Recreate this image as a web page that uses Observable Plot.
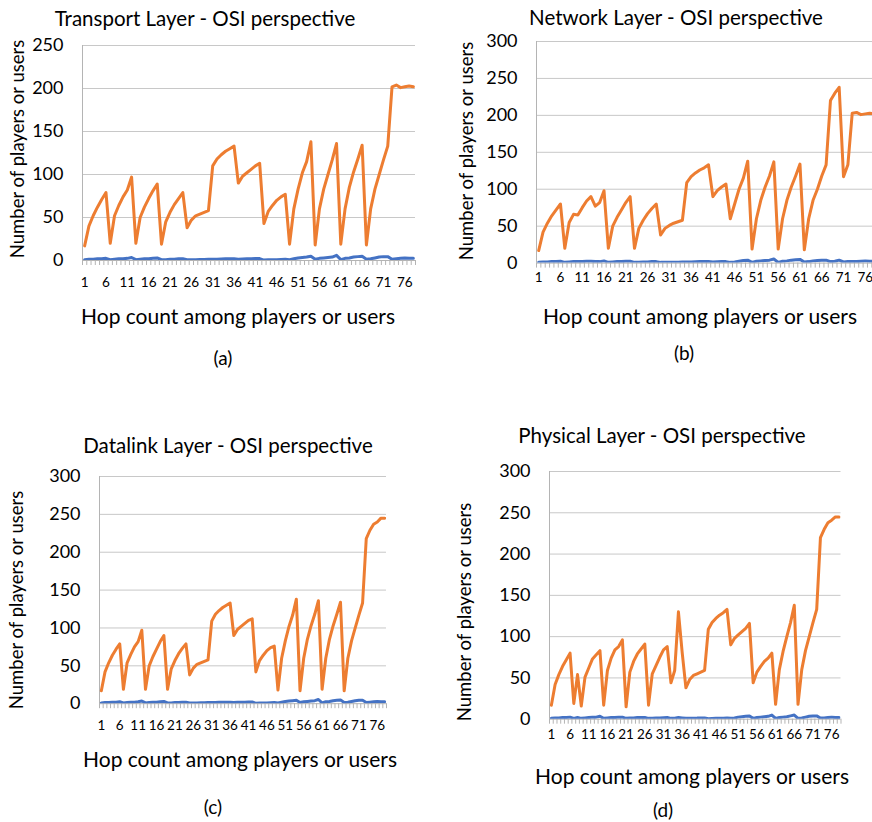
<!DOCTYPE html>
<html>
<head>
<meta charset="utf-8">
<script src="https://cdn.jsdelivr.net/npm/d3@7"></script>
<script src="https://cdn.jsdelivr.net/npm/@observablehq/plot@0.6"></script>
<style>
  body { margin: 0; background: #fff; }
  #root { position: relative; width: 872px; height: 822px; overflow: hidden; font-family: Lato, "Open Sans", sans-serif; color: #000; background: #fff; }
  .t { position: absolute; white-space: nowrap; line-height: 1; transform: translate(-50%, -50%); }
  .v { position: absolute; white-space: nowrap; line-height: 1; transform: translate(-50%, -50%) rotate(-90deg); }
  .plot { position: absolute; }
</style>
</head>
<body>
<div id="root"></div>
<script>
// ---------- data ----------
const hops = d3.range(1, 79);               // hop count categories 1..78
const tickLabels = [1, 6, 11, 16, 21, 26, 31, 36, 41, 46, 51, 56, 61, 66, 71, 76];

const transportOrange = [
  17, 40, 52, 62, 71, 79,
  20, 52, 64, 74, 82, 97,
  20, 50, 62, 72, 81, 89,
  19, 45, 56, 65, 72, 79,
  38, 47, 52, 54, 56, 58,
  110, 118, 123, 127, 130, 133,
  90, 98, 102, 106, 110, 113,
  43, 57, 64, 70, 74, 77,
  19, 60, 83, 102, 115, 138,
  18, 60, 83, 100, 117, 136,
  19, 60, 85, 103, 118, 134,
  18, 60, 83, 100, 117, 133,
  202, 204, 201, 202, 203, 202
];
const transportBlue = [
  1, 1.5, 1.5, 2, 2, 2.5,
  1, 1.5, 2, 2, 2.5, 3.5,
  1, 1.5, 2, 2, 2.5, 3,
  1, 1, 1.5, 1.5, 2, 2,
  1, 1, 1, 1.2, 1.3, 1.5,
  1.5, 1.5, 1.8, 2, 2, 2,
  1.5, 1.8, 2, 2, 2.2, 2.2,
  0.5, 0.8, 1, 1, 1.2, 1.5,
  1, 2, 3, 3.5, 4, 5,
  1.5, 2.5, 3, 3.5, 4, 6,
  1, 2.5, 3, 4, 4.5, 5,
  1.5, 2, 3, 4, 4.5, 4.5,
  1.5, 2, 2.5, 3, 2.5, 2.5
];

const networkOrange = [
  17, 42, 54, 64, 72, 80,
  20, 55, 66, 65, 75, 84, 90, 77, 82, 98,
  20, 50, 62, 72, 82, 90,
  20, 47, 58, 67, 74, 80,
  38, 47, 51, 54, 56, 58,
  109, 117, 122, 126, 129, 133,
  90, 98, 103, 107,
  60, 80, 100, 115, 138,
  19, 60, 85, 103, 118, 137,
  19, 60, 85, 103, 118, 134,
  18, 60, 85, 100, 118, 133,
  220, 230, 238,
  117, 133,
  203, 204, 201, 202, 203, 202
];
const networkBlue = [
  1, 1.5, 1.5, 2, 2, 2.5,
  1, 1.5, 2, 2, 2, 2.5, 2.5, 2, 2, 3,
  1, 1.5, 2, 2, 2.5, 2.5,
  1, 1, 1.5, 1.5, 2, 2,
  1, 1, 1, 1.2, 1.3, 1.5,
  1.5, 1.5, 1.8, 2, 2, 2,
  1.5, 1.8, 2, 2,
  1, 1.5, 2.5, 3.5, 4,
  1, 2.5, 3, 3.5, 4, 5.5,
  1, 2.5, 3, 4, 4.5, 5,
  1.5, 2, 3, 3.5, 4, 4,
  2, 2.5, 4,
  1.5, 2,
  2, 2, 2.5, 3, 2.5, 2.5
];

const datalinkOrange = [
  17, 42, 54, 64, 72, 79,
  19, 54, 65, 75, 82, 97,
  19, 50, 62, 72, 82, 90,
  19, 46, 57, 66, 73, 79,
  38, 47, 52, 54, 56, 58,
  109, 118, 123, 127, 130, 133,
  90, 98, 102, 106, 110, 112,
  42, 57, 64, 70, 74, 76,
  18, 60, 83, 102, 117, 138,
  17, 60, 85, 103, 118, 136,
  19, 60, 85, 103, 118, 134,
  17, 60, 83, 100, 117, 133,
  218, 229, 237, 240, 245, 245
];
const datalinkBlue = [
  1, 1.5, 1.5, 2, 2, 2.5,
  1, 1.5, 2, 2, 2.5, 3.5,
  1, 1.5, 2, 2, 2.5, 3,
  1, 1, 1.5, 1.5, 2, 2,
  1, 1, 1, 1.2, 1.3, 1.5,
  1.5, 1.5, 1.8, 2, 2, 2,
  1.5, 1.8, 2, 2, 2.2, 2.2,
  0.5, 0.8, 1, 1, 1.2, 1.5,
  1, 2, 3, 3.5, 4, 4.5,
  1.5, 2.5, 3, 3.5, 4, 5.5,
  1, 2.5, 3, 4, 4.5, 5,
  1.5, 2, 3, 4, 4.5, 4.5,
  1.5, 2, 2.5, 3, 2.5, 2.5
];

const physicalOrange = [
  17, 42, 54, 64, 72, 80,
  19, 54, 16,
  51, 62, 73, 78, 83,
  17, 59, 74, 84, 88, 96,
  15, 57, 70, 79, 85, 91,
  17, 55, 65, 75, 84, 88,
  44, 59, 130, 81, 38,
  48, 53, 55, 57, 59,
  109, 117, 122, 126, 129, 133,
  90, 98, 102, 106, 110, 116,
  44, 57, 64, 70, 74, 80,
  18, 60, 82, 100, 117, 138,
  18, 60, 83, 100, 117, 133,
  220, 230, 238, 241, 245, 245
];
const physicalBlue = [
  1, 1.5, 1.5, 2, 2, 2.5,
  1, 2, 1,
  1.5, 2, 2.5, 2.5, 3.5,
  1, 1.5, 2, 2, 2.5, 2.5,
  1, 1.5, 1.5, 2, 2, 2,
  1, 1.2, 1.5, 1.5, 1.8, 2,
  1, 1.2, 2, 1.5, 1,
  1, 1.2, 1.3, 1.5, 1.5,
  0.5, 0.8, 1, 1, 1.2, 1.5,
  1, 1.5, 2.5, 3, 3.5, 4,
  1, 2, 2.5, 3, 3.5, 5,
  1, 2, 2.5, 3, 4, 5,
  1, 1.5, 2.5, 3.5, 4, 4,
  1.5, 1.5, 2, 2.5, 2, 2
];

const yTitle = "Number of players or users";
const xTitle = "Hop count among players or users";

// ---------- layout ----------
const ORANGE = "#ED7D31", BLUE = "#4472C4";
const panels = [
  { title: "Transport Layer - OSI perspective", cap: "(a)", orange: transportOrange, blue: transportBlue, yMax: 250,
    f: { l: 82, r: 415, t: 45, b: 260 }, xMax: 78.5, tickPad: 17,
    titleXY: [205, 18], xTitleXY: [238, 315], yTitleXY: [17, 149], capXY: [223, 357] },
  { title: "Network Layer - OSI perspective", cap: "(b)", orange: networkOrange, blue: networkBlue, yMax: 300,
    f: { l: 535.7, r: 872, t: 40.7, b: 262.3 }, xMax: 0.5 + (872 - 535.7) / 4.355, tickPad: 9,
    titleXY: [676, 17], xTitleXY: [700, 315], yTitleXY: [466, 151], capXY: [684, 352] },
  { title: "Datalink Layer - OSI perspective", cap: "(c)", orange: datalinkOrange, blue: datalinkBlue, yMax: 300,
    f: { l: 99.3, r: 386.3, t: 475.5, b: 702.7 }, xMax: 78.5, tickPad: 17,
    titleXY: [228, 445], xTitleXY: [240, 758], yTitleXY: [16, 600], capXY: [213, 806] },
  { title: "Physical Layer - OSI perspective", cap: "(d)", orange: physicalOrange, blue: physicalBlue, yMax: 300,
    f: { l: 548.8, r: 840.3, t: 471, b: 718.7 }, xMax: 78.5, tickPad: 10,
    titleXY: [662, 435], xTitleXY: [692, 775], yTitleXY: [464, 612], capXY: [663, 809] }
];

const root = document.getElementById("root");
function addText(txt, [x, y], size, vertical) {
  const d = document.createElement("div");
  d.className = vertical ? "v" : "t";
  d.textContent = txt;
  d.style.left = x + "px";
  d.style.top = y + "px";
  d.style.fontSize = size + "px";
  root.appendChild(d);
}

const ML = 75, MT = 15, MB = 40;
for (const p of panels) {
  const rows = hops.map((h, i) => ({ hop: h, orange: p.orange[i], blue: p.blue[i] }));
  const mr = Math.max(0, 872 - p.f.r < 10 ? 872 - p.f.r : 10);
  const width = (p.f.r - p.f.l) + ML + mr;
  const height = (p.f.b - p.f.t) + MT + MB;
  const bounds = d3.range(0.5, p.xMax + 0.001, 1);
  const chart = Plot.plot({
    width, height,
    marginLeft: ML, marginTop: MT, marginRight: mr, marginBottom: MB,
    style: { fontFamily: "Lato, 'Open Sans', sans-serif", background: "transparent", color: "#000", overflow: "visible" },
    x: { domain: [0.5, p.xMax], axis: null },
    y: { domain: [0, p.yMax], axis: null },
    marks: [
      Plot.gridY(d3.range(50, p.yMax + 1, 50), { stroke: "#c8c8c8", strokeOpacity: 1, strokeWidth: 1 }),
      Plot.ruleX([0.5], { stroke: "#b4b4b4", strokeWidth: 1 }),
      Plot.ruleY([0], { stroke: "#b4b4b4", strokeWidth: 1 }),
      Plot.axisX(bounds, { tickSize: 5, tickFormat: () => "", stroke: "#b4b4b4", label: null }),
      Plot.axisX(tickLabels, { tickSize: 0, tickPadding: p.tickPad, fontSize: 13.5, fill: "#000", tickFormat: d => String(d), label: null }),
      Plot.axisY(d3.range(0, p.yMax + 1, 50), { tickSize: 0, tickPadding: 19, fontSize: 18, fill: "#000", label: null }),
      Plot.line(rows, { x: "hop", y: "blue", stroke: BLUE, strokeWidth: 3, strokeLinejoin: "round", strokeLinecap: "round", clip: true }),
      Plot.line(rows, { x: "hop", y: "orange", stroke: ORANGE, strokeWidth: 3, strokeLinejoin: "round", strokeLinecap: "round", clip: true })
    ]
  });
  chart.classList.add("plot");
  chart.style.left = (p.f.l - ML) + "px";
  chart.style.top = (p.f.t - MT) + "px";
  root.appendChild(chart);

  addText(p.title, p.titleXY, 20.5, false);
  addText(xTitle, p.xTitleXY, 21, false);
  addText(yTitle, p.yTitleXY, 18.5, true);
  addText(p.cap, p.capXY, 19, false);
}
</script>
</body>
</html>
